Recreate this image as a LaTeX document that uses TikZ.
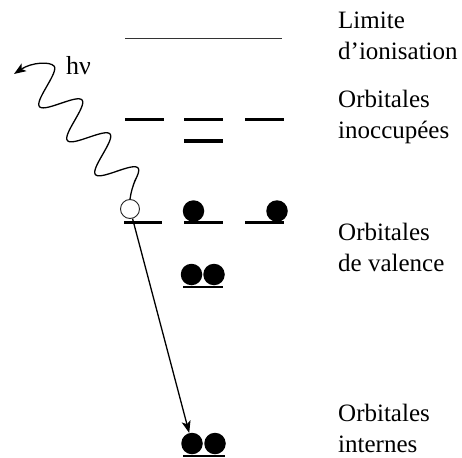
\documentclass[tikz,border=0pt]{standalone}
\usepackage{fontspec}
\setmainfont{Liberation Serif}
\usetikzlibrary{arrows.meta}

% two stacked lines; the box's baseline is that of the first line
\newcommand\twolines[2]{\vtop{\hbox{#1}\hbox{#2}}}

\tikzset{
  lvl/.style={line width=3pt},
  ionlvl/.style={line width=1pt, black!80},
  electron/.style={circle, fill=black, minimum size=21.5pt, inner sep=0pt},
  hole/.style={circle, draw=black!85, line width=0.9pt, fill=white, minimum size=19pt, inner sep=0pt},
  label/.style={anchor=base west, inner sep=0pt, font=\fontsize{25}{31}\selectfont},
  wire/.style={line width=1.3pt, -{Stealth[length=12pt, width=9pt, inset=3pt]}},
}

\begin{document}
\begin{tikzpicture}[x=1pt, y=-1pt]
  \useasboundingbox (0,0) rectangle (462,457);

  % ionisation limit
  \draw[ionlvl] (125,39) -- (282,39);

  % unoccupied orbitals
  \draw[lvl] (125,120) -- (164,120);
  \draw[lvl] (184,120) -- (223,120);
  \draw[lvl] (184,141) -- (223,141);
  \draw[lvl] (245,120) -- (284,120);

  % valence orbitals
  \draw[lvl] (124,222) -- (162,222);
  \draw[lvl] (184,222) -- (223,222);
  \draw[lvl] (245,222) -- (284,222);
  \draw[lvl, line width=2.5pt] (183,287) -- (223,287);

  % core orbital
  \draw[lvl, line width=2.2pt] (183,455.8) -- (225,455.8);

  % electrons and the hole
  \node[hole] (h) at (130,209) {};
  \node[electron] (v1) at (193.5,211) {};
  \node[electron] (v2) at (277,211) {};
  \node[electron] (v3) at (191.5,274.5) {};
  \node[electron] (v4) at (214,274.5) {};
  \node[electron] (c1) at (192,443.5) {};
  \node[electron] (c2) at (215,443.5) {};

  % emitted photon
  \coordinate (photon) at (14,74);
  \draw[wire] (h.north) .. controls (131,192) and (133,185) .. (135.9,178.8)
    -- plot[domain=-7:132, samples=160, smooth]
       ({138-0.636*\x+14.282*(cos(8.1818*\x)-1)}, {168-0.772*\x-11.766*(cos(8.1818*\x)-1)})
    .. controls (50.5,61.5) and (32,62) .. (photon);
  \node[label, font=\fontsize{26}{31}\selectfont] (hnu) at (66,75) {hν};

  % electron falling into the core hole
  \draw[wire] (h) -- (c1);

  % level names
  \node[label] (t1) at (338,29) {\twolines{Limite}{d’ionisation}};
  \node[label] (t2) at (338,108) {\twolines{Orbitales}{inoccupées}};
  \node[label] (t3) at (338,240) {\twolines{Orbitales}{de valence}};
  \node[label] (t4) at (338,421) {\twolines{Orbitales}{internes}};
\end{tikzpicture}
\end{document}
